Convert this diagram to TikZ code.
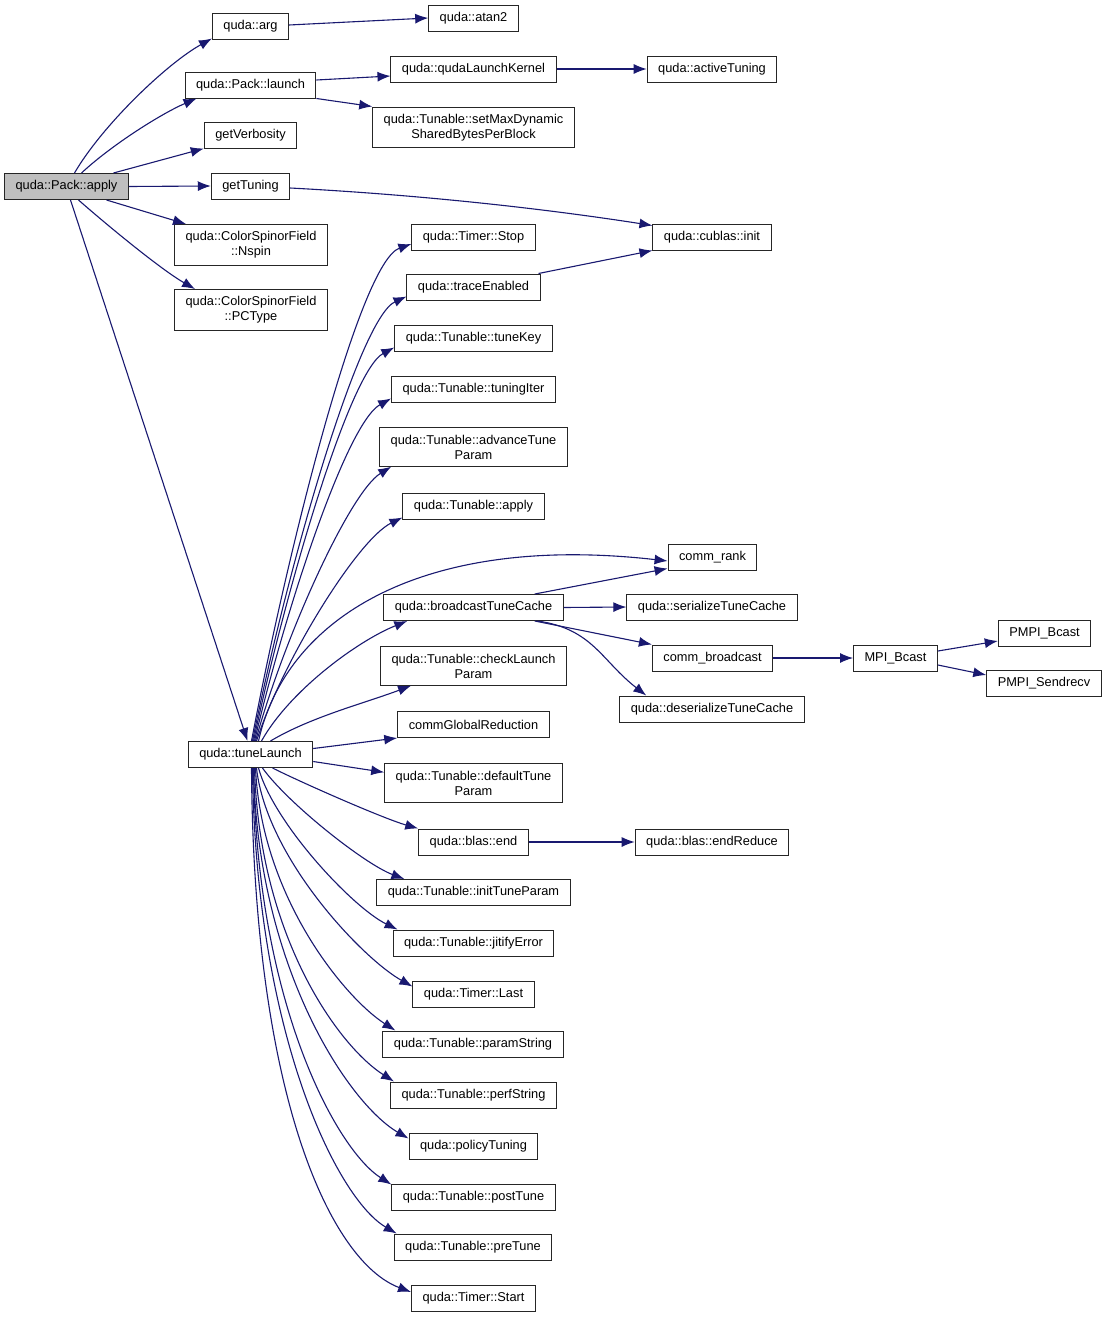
\documentclass[tikz,border=0pt]{standalone}
\usepackage{fontspec}
\setmainfont{Liberation Sans}
\usetikzlibrary{arrows.meta}
\definecolor{callblue}{RGB}{25,25,112}
\tikzset{fn/.style={draw=black!85,line width=1pt,fill=white,align=center,
    inner xsep=11pt,inner ysep=7pt,minimum height=26pt,
    font=\fontsize{12.8}{15}\selectfont}}

\begin{document}
\begin{tikzpicture}[x=1pt,y=-1pt,
            root/.style={fn,fill=black!25},
            call/.style={draw=callblue,line width=1.1pt,-{Latex[length=13pt,width=10pt]}}
            ]
            \fill[white] (0,0) rectangle (1108,1317);
            \useasboundingbox (0,0) rectangle (1108,1317);
            % first column
            \node[root] (apply) at (66.5,186.5) {quda::Pack::apply};
            % second column
            \node[fn] (arg) at (250.5,26) {quda::arg};
            \node[fn] (launch) at (250.5,85) {quda::Pack::launch};
            \node[fn] (verb) at (250.5,135) {getVerbosity};
            \node[fn] (gtun) at (250.5,186) {getTuning};
            \node[fn] (nspin) at (251,245) {quda::ColorSpinorField\\::Nspin};
            \node[fn] (pctype) at (251,310) {quda::ColorSpinorField\\::PCType};
            \node[fn] (tl) at (250.5,754.5) {quda::tuneLaunch};
            % third column
            \node[fn] (atan) at (473.5,18) {quda::atan2};
            \node[fn] (qlk) at (473.5,69) {quda::qudaLaunchKernel};
            \node[fn] (setmax) at (473.5,127.5) {quda::Tunable::setMaxDynamic\\SharedBytesPerBlock};
            \node[fn] (stop) at (473.5,237) {quda::Timer::Stop};
            \node[fn] (trace) at (473.5,287) {quda::traceEnabled};
            \node[fn] (key) at (473.5,338) {quda::Tunable::tuneKey};
            \node[fn] (iter) at (473.5,389) {quda::Tunable::tuningIter};
            \node[fn] (adv) at (473.5,447) {quda::Tunable::advanceTune\\Param};
            \node[fn] (tapply) at (473.5,506) {quda::Tunable::apply};
            \node[fn] (bcast) at (473.5,607.5) {quda::broadcastTuneCache};
            \node[fn] (check) at (473.5,666) {quda::Tunable::checkLaunch\\Param};
            \node[fn] (cgr) at (473.5,724.5) {commGlobalReduction};
            \node[fn] (dtp) at (473.5,783) {quda::Tunable::defaultTune\\Param};
            \node[fn] (bend) at (473.5,842) {quda::blas::end};
            \node[fn] (itp) at (473.5,892.5) {quda::Tunable::initTuneParam};
            \node[fn] (jit) at (473.5,943) {quda::Tunable::jitifyError};
            \node[fn] (last) at (473.5,994) {quda::Timer::Last};
            \node[fn] (pstr) at (473,1044) {quda::Tunable::paramString};
            \node[fn] (perf) at (473.5,1095) {quda::Tunable::perfString};
            \node[fn] (pol) at (473.5,1146) {quda::policyTuning};
            \node[fn] (post) at (473.5,1197) {quda::Tunable::postTune};
            \node[fn] (pre) at (473,1247) {quda::Tunable::preTune};
            \node[fn] (start) at (473.5,1298) {quda::Timer::Start};
            % fourth column
            \node[fn] (active) at (712,69) {quda::activeTuning};
            \node[fn] (cublas) at (712,237) {quda::cublas::init};
            \node[fn] (crank) at (712.5,557) {comm\_rank};
            \node[fn] (ser) at (712,607) {quda::serializeTuneCache};
            \node[fn] (cbc) at (712.5,658) {comm\_broadcast};
            \node[fn] (deser) at (712,709) {quda::deserializeTuneCache};
            \node[fn] (endred) at (712,842) {quda::blas::endReduce};
            % last columns
            \node[fn] (mpi) at (895.5,658) {MPI\_Bcast};
            \node[fn] (pbcast) at (1044.5,633) {PMPI\_Bcast};
            \node[fn] (psend) at (1044,683) {PMPI\_Sendrecv};

            % calls of quda::Pack::apply
            \draw[call] ([xshift=8pt]apply.north) .. controls +(28,-48) and +(-45,25) .. ([yshift=1pt]arg.south west);
            \draw[call] ([xshift=15pt]apply.north) .. controls +(30,-28) and +(-35,15) .. ([xshift=12pt]launch.south west);
            \draw[call] ([xshift=47pt]apply.north) -- (verb.south west);
            \draw[call] (apply.east) -- (gtun.west);
            \draw[call] ([xshift=40pt]apply.south) -- ([xshift=12pt]nspin.north west);
            \draw[call] ([xshift=12pt]apply.south) .. controls +(25,22) and +(-35,-20) .. ([xshift=21pt]pctype.north west);
            \draw[call] ([xshift=4pt]apply.south) -- ([xshift=-3pt]tl.north);
            % second column calls
            \draw[call] ([yshift=1pt]arg.east) -- (atan.west);
            \draw[call] ([yshift=5pt]launch.east) -- ([yshift=-7pt]qlk.west);
            \draw[call] (launch.south east) -- (setmax.north west);
            \draw[call] (qlk.east) -- (active.west);
            \draw[call] ([yshift=-2pt]gtun.east) .. controls +(150,8) and +(-90,-14) .. ([yshift=-2pt]cublas.north west);
            \draw[call] ([xshift=-2pt]trace.north east) -- (cublas.south west);
            % quda::tuneLaunch upwards
            \draw[call] ([xshift=1pt]tl.north) .. controls +(36,-190) and +(-52,18) .. ([yshift=-7pt]stop.west);
            \draw[call] ([xshift=2pt]tl.north) .. controls +(34,-170) and +(-48,22) .. ([yshift=4pt]trace.south west);
            \draw[call] ([xshift=3pt]tl.north) .. controls +(32,-150) and +(-45,24) .. ([yshift=4pt]key.south west);
            \draw[call] ([xshift=4pt]tl.north) .. controls +(30,-128) and +(-45,25) .. ([yshift=4pt]iter.south west);
            \draw[call] ([xshift=5pt]tl.north) .. controls +(28,-102) and +(-42,26) .. ([xshift=12pt]adv.south west);
            \draw[call] ([xshift=6pt]tl.north) .. controls +(26,-80) and +(-45,22) .. ([yshift=2pt]tapply.south west);
            \draw[call] ([xshift=8pt]tl.north) .. controls +(27,-122) and +(-247,-28) .. ([yshift=-4pt]crank.west);
            \draw[call] ([xshift=11pt]tl.north) .. controls +(28,-50) and +(-50,20) .. ([xshift=24pt]bcast.south west);
            \draw[call] ([xshift=20pt]tl.north) .. controls +(40,-24) and +(-45,17) .. ([xshift=31pt]check.south west);
            \draw[call] ([yshift=6pt]tl.east) -- (cgr.south west);
            \draw[call] ([yshift=-7pt]tl.east) -- ([yshift=-9pt]dtp.north west);
            % quda::tuneLaunch downwards
            \draw[call] ([xshift=22pt]tl.south) .. controls +(30,15) and +(-35,-10) .. (bend.north west);
            \draw[call] ([xshift=12pt]tl.south) .. controls +(25,35) and +(-40,-15) .. ([xshift=28pt]itp.north west);
            \draw[call] ([xshift=8pt]tl.south) .. controls +(15,55) and +(-45,-22) .. ([xshift=5pt]jit.north west);
            \draw[call] ([xshift=6pt]tl.south) .. controls +(10,90) and +(-50,-28) .. ([yshift=-6pt]last.north west);
            \draw[call] ([xshift=5pt]tl.south) .. controls +(6,130) and +(-50,-32) .. ([xshift=13pt]pstr.north west);
            \draw[call] ([xshift=4pt]tl.south) .. controls +(5,170) and +(-55,-35) .. ([xshift=4pt]perf.north west);
            \draw[call] ([xshift=3pt]tl.south) .. controls +(4,200) and +(-60,-35) .. ([yshift=-6pt]pol.north west);
            \draw[call] ([xshift=3pt]tl.south) .. controls +(3,235) and +(-55,-35) .. ([yshift=-1pt]post.north west);
            \draw[call] ([xshift=2pt]tl.south) .. controls +(3,265) and +(-60,-35) .. ([xshift=3pt]pre.north west);
            \draw[call] ([xshift=1pt]tl.south) .. controls +(2,330) and +(-80,-30) .. ([yshift=6pt]start.west);
            % broadcast and the rest
            \draw[call] ([xshift=-29pt]bcast.north east) -- ([yshift=2pt]crank.south west);
            \draw[call] (bcast.east) -- (ser.west);
            \draw[call] ([xshift=-29pt]bcast.south east) -- (cbc.north west);
            \draw[call] ([xshift=-26pt]bcast.south east) .. controls +(55,8) and +(-45,-35) .. ([xshift=27pt]deser.north west);
            \draw[call] (cbc.east) -- (mpi.west);
            \draw[call] ([yshift=7pt]mpi.east) -- ([yshift=-8pt]pbcast.west);
            \draw[call] ([yshift=-7pt]mpi.east) -- ([yshift=8pt]psend.west);
            \draw[call] (bend.east) -- (endred.west);
\end{tikzpicture}
\end{document}
